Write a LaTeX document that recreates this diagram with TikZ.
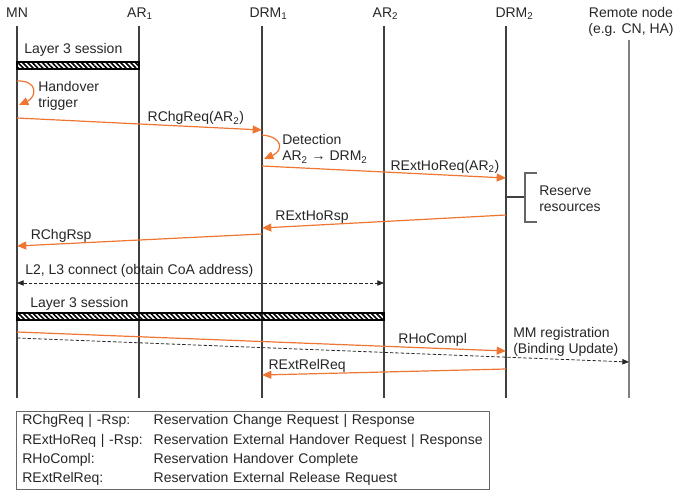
\documentclass[tikz,border=0pt]{standalone}
\usepackage{fontspec}
\setmainfont{Liberation Sans}
\usetikzlibrary{arrows.meta, positioning, patterns.meta}
\definecolor{msgorange}{RGB}{238,118,50}

\begin{document}
\begin{tikzpicture}[
    x=0.75pt, y=-0.75pt,
    every node/.style={font=\fontsize{10.5}{12}\selectfont, text=black!85},
    head/.style    ={anchor=base, inner sep=0pt},
    lifeline/.style={draw=black!75, line width=0.8pt},
    remote/.style  ={draw=black!50, line width=1.3pt},
    session/.style ={draw=black, line width=1pt,
                     pattern={Lines[angle=-45, distance=2.6pt, line width=1.2pt]}},
    msg/.style     ={draw=msgorange, line width=0.9pt, -{Triangle[length=7pt, width=6pt]}},
    dmsg/.style    ={draw=black!85, line width=0.6pt, dash pattern=on 2.5pt off 1.5pt,
                     -{Triangle[length=5pt, width=4pt]}},
    lbl/.style     ={anchor=south, inner sep=1pt},
    note/.style    ={align=left, inner sep=0pt},
    legend/.style  ={draw=black!60, line width=0.75pt, anchor=north west,
                     text width=346pt, inner xsep=4.4pt, inner ysep=2.5pt, align=left,
                     font=\fontsize{10.5}{14.5}\selectfont},
]
\useasboundingbox (0,0) rectangle (674,491);

% ── Lifeline heads ───────────────────────────────────────────
\node[head] (hmn)   at (17,17.5)    {MN};
\node[head] (har1)  at (140,17.5)   {AR\textsubscript{1}};
\node[head] (hdrm1) at (268.5,17.5) {DRM\textsubscript{1}};
\node[head] (har2)  at (385.5,17.5) {AR\textsubscript{2}};
\node[head] (hdrm2) at (514.5,17.5) {DRM\textsubscript{2}};
\node[head, align=center, anchor=north] (hrn) at (631,7) {Remote node\\(e.g. CN, HA)};

% ── Lifelines ────────────────────────────────────────────────
\coordinate (mn)   at (17,26);
\coordinate (ar1)  at (139,26);
\coordinate (drm1) at (262,26);
\coordinate (ar2)  at (384,26);
\coordinate (drm2) at (506,26);
\coordinate (rn)   at (629,40);
\coordinate (bot)  at (0,398);

\draw[lifeline] (mn)   -- (mn |- bot);
\draw[lifeline] (ar1)  -- (ar1 |- bot);
\draw[lifeline] (drm1) -- (drm1 |- bot);
\draw[lifeline] (ar2)  -- (ar2 |- bot);
\draw[lifeline] (drm2) -- (drm2 |- bot);
\draw[remote]   (rn)   -- (rn |- bot);

% ── Old session and handover trigger ─────────────────────────
\node[note, anchor=base west] (sess1) at (24,54) {Layer 3 session};
\draw[session] (mn |- 0,62) rectangle (ar1 |- 0,69);

\draw[msg] (mn |- 0,81) .. controls (38,80) and (37,97) .. (19,105);
\node[note, anchor=west] (trig) at (38,96) {Handover\\trigger};

% ── Reservation change ───────────────────────────────────────
\draw[msg] (mn |- 0,118) -- node[lbl, pos=0.73] {RChgReq(AR\textsubscript{2})} (drm1 |- 0,130);

\draw[msg] (drm1 |- 0,135) .. controls (284,137) and (283,151) .. (264,159);
\node[note, anchor=west] (detect) at (282,149) {Detection\\AR\textsubscript{2} → DRM\textsubscript{2}};

\draw[msg] (drm1 |- 0,166) -- node[lbl, pos=0.75] {RExtHoReq(AR\textsubscript{2})} (drm2 |- 0,178);

% ── Reserve resources bracket ────────────────────────────────
\coordinate (brk) at (525,197);
\draw[draw=black!75, line width=0.8pt] (drm2 |- brk) -- (brk);
\draw[draw=black!60, line width=0.8pt] (537,173) -- (525,173) -- (525,222) -- (537,222);
\node[note, anchor=west] (resv) at (539,199) {Reserve\\resources};

\draw[msg] (drm2 |- 0,215) -- node[lbl, pos=0.795] {RExtHoRsp} (drm1 |- 0,228);
\draw[msg] (drm1 |- 0,234) -- node[lbl, pos=0.82] {RChgRsp} (mn |- 0,246);

% ── L2/L3 connect and new session ────────────────────────────
\node[note, anchor=base west] (conn) at (25,275) {L2, L3 connect (obtain CoA address)};
\draw[dmsg, {Triangle[length=5pt, width=4pt]}-{Triangle[length=5pt, width=4pt]}]
    (mn |- 0,283) -- (ar2 |- 0,283);

\node[note, anchor=base west] (sess2) at (30,308) {Layer 3 session};
\draw[session] (mn |- 0,313) rectangle (ar2 |- 0,320);

% ── Completion and registration ──────────────────────────────
\draw[msg] (mn |- 0,332) -- node[lbl, pos=0.85] {RHoCompl} (drm2 |- 0,351);
\draw[dmsg] (mn |- 0,338) -- (rn |- 0,362);
\node[note, anchor=west] (mmreg) at (513,341.5) {MM registration\\(Binding Update)};

\draw[msg] (drm2 |- 0,369) -- node[lbl, pos=0.815] {RExtRelReq} (drm1 |- 0,375);

% ── Legend ───────────────────────────────────────────────────
\node[legend] (key) at (16,411) {%
    \mbox{\makebox[98.5pt][l]{RChgReq | -Rsp:}Reservation Change Request | Response}\\
    \mbox{\makebox[98.5pt][l]{RExtHoReq | -Rsp:}Reservation External Handover Request | Response}\\
    \mbox{\makebox[98.5pt][l]{RHoCompl:}Reservation Handover Complete}\\
    \mbox{\makebox[98.5pt][l]{RExtRelReq:}Reservation External Release Request}};

\end{tikzpicture}
\end{document}
